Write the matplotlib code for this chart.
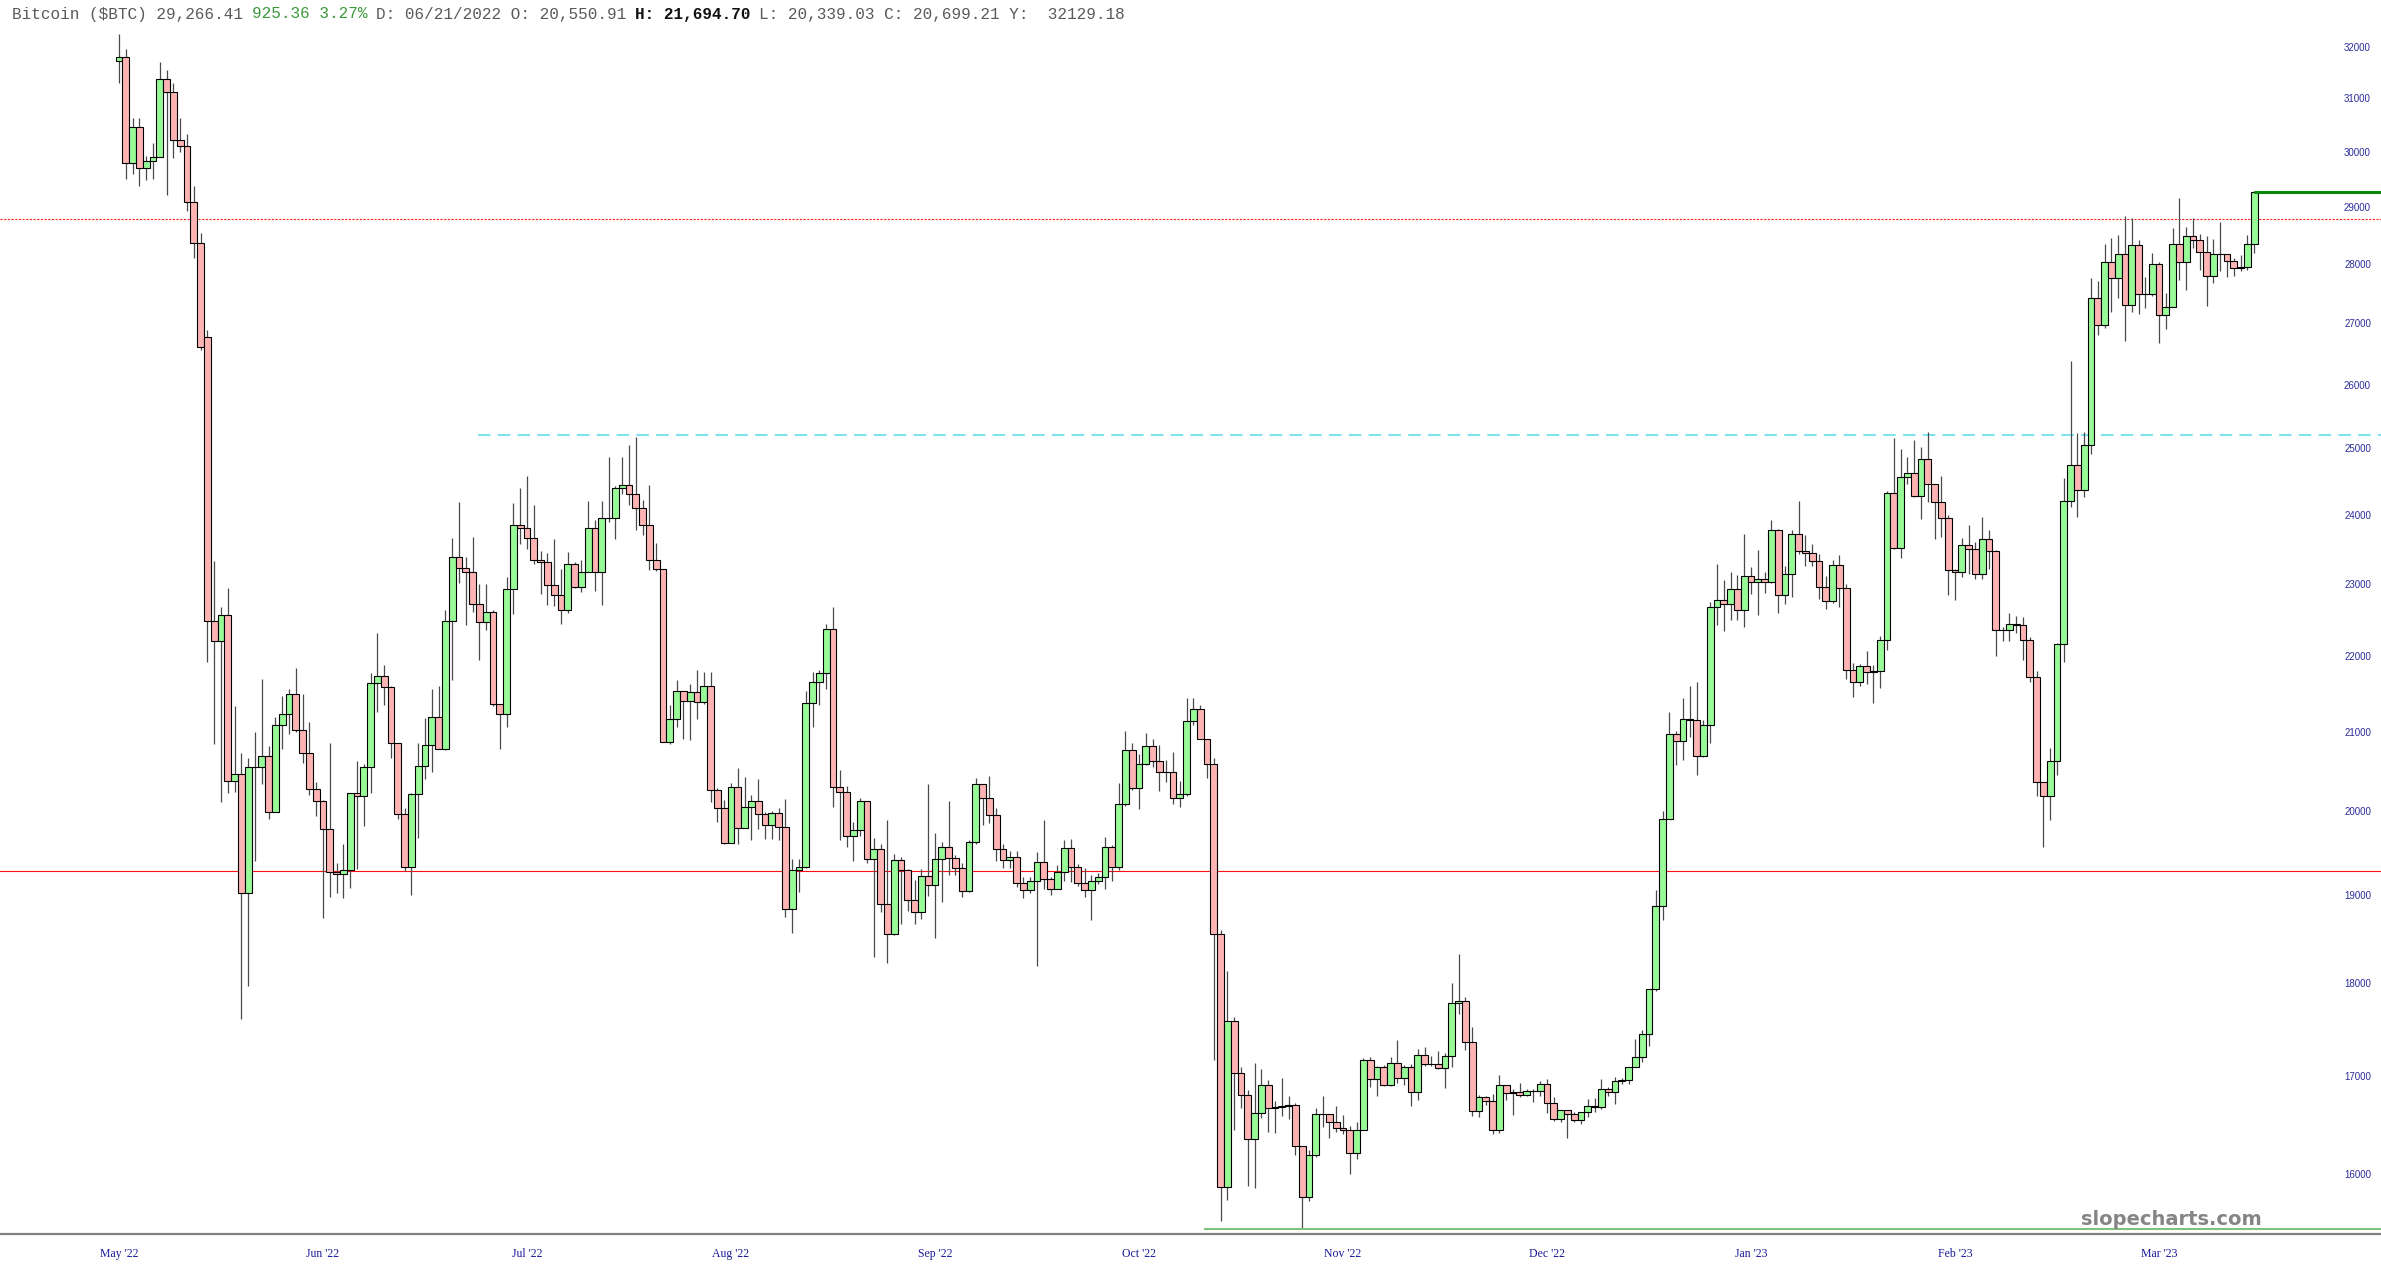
import numpy as np
import matplotlib
matplotlib.use("Agg")
import matplotlib.pyplot as plt
from matplotlib.ticker import NullLocator, NullFormatter
from matplotlib.transforms import offset_copy

# ---------------- data (daily candles, 31 May 2022 -> 10 Apr 2023) ----------------
opens = [
    31723,
    # Jun 2022
    31792, 29800, 30468, 29705, 29833, 29907, 31371, 31125, 30215, 30112, 29084, 28360, 26763, 22488, 22206,
    22572, 20381, 20471, 19017, 20553, 20551, 20699, 19988, 21086, 21232, 21502, 21028, 20736, 20281, 20124,
    # Jul
    19785, 19269, 19243, 19297, 20231, 20190, 20548, 21637, 21731, 21592, 20860, 19970, 19323, 20212, 20569, 20836,
    21190, 20780, 22485, 23389, 23231, 23164, 22714, 22466, 22609, 21362, 21239, 22931, 23843, 23804, 23656,
    # Aug
    23337, 23315, 22979, 22846, 22630, 23289, 22961, 23175, 23810, 23164, 23948, 23957, 24403, 24442, 24305, 24095,
    23855, 23336, 23212, 20877, 21166, 21534, 21398, 21528, 21395, 21600, 20260, 20041, 19616, 20297, 19797,
    # Sep
    20050, 20127, 19970, 19833, 19986, 19812, 18838, 19290, 19329, 21382, 21653, 21781, 22371, 20297, 20241,
    19701, 19773, 20127, 19419, 19545, 18891, 18547, 19413, 19297, 18937, 18803, 19222, 19110, 19427, 19573,
    # Oct
    19432, 19312, 19044, 19623, 20337, 20160, 19955, 19547, 19417, 19446, 19141, 19052, 19157, 19382, 19185, 19068,
    19269, 19550, 19334, 19139, 19054, 19164, 19204, 19571, 19332, 20095, 20771, 20285, 20595, 20818, 20635,
    # Nov
    20495, 20485, 20160, 20209, 21148, 21300, 20906, 20591, 18547, 15880, 17587, 17034, 16800, 16353, 16619,
    16904, 16662, 16680, 16688, 16697, 16282, 15782, 16196, 16610, 16605, 16522, 16459, 16444, 16217, 16445,
    # Dec
    17168, 16968, 17088, 16908, 17130, 16975, 17089, 16836, 17224, 17128, 17127, 17085, 17209, 17774, 17803, 17356,
    16632, 16776, 16738, 16439, 16906, 16817, 16830, 16796, 16847, 16841, 16919, 16717, 16553, 16642, 16603,
    # Jan 2023
    16547, 16625, 16688, 16680, 16863, 16836, 16951, 16955, 17092, 17197, 17446, 17934, 18869, 19910, 20977, 20880,
    21170, 21161, 20689, 21087, 22676, 22777, 22720, 22934, 22636, 23117, 23032, 23078, 23031, 23774, 22840,
    # Feb
    23139, 23723, 23471, 23449, 23331, 22955, 22760, 23264, 22939, 21819, 21651, 21871, 21788, 21808, 22220, 24330,
    23517, 24570, 24631, 24271, 24844, 24451, 24191, 23949, 23200, 23166, 23554, 23502,
    # Mar
    23147, 23646, 23475, 22362, 22353, 22435, 22429, 22219, 21718, 20364, 20187, 20633, 22163, 24197, 24746, 24375,
    25052, 27423, 26966, 28038, 27768, 28176, 27307, 28333, 27493, 27494, 27995, 27139, 27268, 28349, 28033,
    # Apr
    28478, 28411, 28199, 27790, 28168, 28177, 28044, 27926, 27948, 28341,
]

highs = [
    32249,
    31957, 30633, 30633, 29930, 30152, 31693, 31552, 31295, 30630, 30325, 29373, 28532, 26883, 23329, 22681,
    22938, 21334, 20735, 20665, 21000, 21695, 20816, 21190, 21472, 21558, 21839, 21495, 21125, 20364, 20141,
    20865, 19371, 19602, 20231, 20630, 20595, 21771, 22314, 21877, 21596, 20838, 20047, 20223, 20857, 21182, 21561,
    21600, 22633, 23666, 24196, 23388, 23671, 22996, 23004, 22640, 21343, 23094, 24171, 24395, 24572, 24147,
    23467, 23443, 23647, 23218, 23454, 23310, 23347, 24203, 23918, 24200, 24867, 24426, 24860, 25047, 25179, 24226,
    24447, 23581, 23203, 21357, 21682, 21522, 21625, 21812, 21790, 21788, 20290, 20138, 20357, 20540, 20425,
    20198, 20401, 19998, 20000, 20040, 20156, 19428, 19425, 21540, 21792, 21814, 22441, 22680, 20518, 20313,
    19874, 20164, 20116, 19674, 19602, 19896, 19483, 19444, 19304, 19180, 19305, 20338, 19733, 19623, 20134,
    19472, 19370, 19654, 20409, 20343, 20442, 20041, 19601, 19515, 19525, 19214, 19214, 19508, 19889, 19212, 19356,
    19648, 19666, 19361, 19315, 19237, 19257, 19683, 19590, 20348, 21007, 20855, 20721, 20988, 20910, 20833,
    20647, 20742, 20382, 21446, 21446, 21357, 20899, 20664, 18591, 18136, 17626, 17096, 16854, 17136, 17073,
    16960, 16736, 16978, 16791, 16722, 16287, 16247, 16670, 16790, 16595, 16689, 16595, 16481, 16526, 17190,
    17198, 17104, 17116, 17198, 17379, 17109, 17123, 17285, 17307, 17213, 17266, 17240, 18000, 18318, 17847, 17520,
    16800, 16790, 16806, 17007, 16907, 16860, 16923, 16866, 16860, 16944, 16964, 16778, 16651, 16634, 16628,
    16631, 16760, 16774, 16964, 16885, 16992, 16975, 17093, 17389, 17484, 17934, 19053, 20000, 21258, 21009, 21438,
    21601, 21650, 21162, 22745, 23282, 23056, 23165, 23127, 23722, 23237, 23490, 23166, 23919, 23789, 23256,
    23772, 24208, 23703, 23567, 23433, 23107, 23349, 23420, 23005, 21907, 21892, 22074, 21884, 22277, 24348, 25160,
    24985, 24875, 25124, 25020, 25250, 24450, 24586, 23990, 23217, 23660, 23847, 23595,
    23965, 23775, 23479, 22403, 22588, 22554, 22532, 22261, 21801, 20368, 20792, 22175, 24550, 26386, 25231, 25250,
    27768, 27715, 28350, 28458, 28498, 28841, 28800, 28408, 27778, 28197, 28029, 27501, 28620, 29160, 28640,
    28800, 28520, 28484, 28440, 28733, 28178, 28100, 28158, 28500, 29280,
]

lows = [
    31286,
    29501, 29600, 29375, 29485, 29508, 29895, 29219, 29886, 30000, 28920, 28106, 26561, 21925, 20846, 20111,
    20232, 20246, 17600, 17961, 19400, 20339, 19910, 19990, 20777, 20969, 20999, 20601, 20201, 19938, 18729,
    18975, 19024, 18966, 19085, 19304, 19823, 20224, 21257, 21350, 20672, 19905, 19284, 18999, 19670, 20397, 20484,
    20778, 20770, 21683, 23009, 22431, 22603, 21955, 22364, 21341, 20778, 21070, 22585, 23576, 23505, 23287,
    22863, 22710, 22686, 22435, 22588, 22948, 22887, 23164, 22900, 22706, 23900, 23640, 24314, 24142, 23781, 23705,
    23200, 23184, 20868, 20844, 21067, 20915, 20900, 21175, 21369, 20113, 19875, 19601, 19617, 19602, 19884,
    19653, 19786, 19661, 19659, 19650, 18746, 18561, 19034, 19321, 21059, 21358, 21567, 20055, 19656, 19571,
    19400, 19699, 19377, 18292, 18803, 18220, 18532, 18659, 18813, 18657, 18721, 18989, 18503, 18915, 19230,
    19232, 18970, 19028, 19604, 19835, 19854, 19395, 19321, 19316, 19088, 18960, 19025, 18190, 19068, 18999, 19066,
    19161, 19156, 19100, 18970, 18712, 19131, 19067, 19160, 19288, 20064, 20261, 20029, 20579, 20549, 20247,
    20361, 20087, 20057, 20188, 21094, 20904, 20421, 17166, 15550, 15750, 16445, 16665, 15885, 15872, 16566,
    16428, 16410, 16589, 16553, 16195, 15476, 15737, 16175, 16470, 16359, 16423, 16401, 16009, 16153, 16440,
    16888, 16787, 16889, 16894, 16922, 16903, 16691, 16749, 17106, 17100, 17070, 16873, 17090, 17663, 17275, 16584,
    16580, 16697, 16398, 16416, 16745, 16600, 16784, 16794, 16732, 16792, 16612, 16530, 16522, 16360, 16527,
    16499, 16573, 16623, 16660, 16790, 16710, 16914, 16911, 17093, 17143, 17319, 17913, 18714, 19921, 20579, 20643,
    20932, 20449, 20682, 20862, 22425, 22346, 22501, 22493, 22404, 22857, 22560, 22877, 23013, 22595, 22722,
    22817, 23428, 23261, 23256, 22790, 22647, 22738, 22682, 21689, 21461, 21609, 21630, 21377, 21571, 22087, 23500,
    23365, 24465, 24258, 23938, 24184, 23640, 23677, 22850, 22778, 23105, 23138, 23072,
    23066, 23212, 22001, 22215, 22206, 22313, 21945, 21651, 20194, 19569, 19896, 20449, 21918, 24121, 23969, 24261,
    24914, 26800, 26922, 27187, 27412, 26709, 27180, 27157, 27252, 27462, 26676, 26900, 27282, 27720, 27548,
    28280, 27890, 27280, 27680, 27885, 27777, 27793, 27873, 27900, 28190,
]

closes = [
    31792,
    29800, 30468, 29705, 29833, 29907, 31371, 31125, 30215, 30112, 29084, 28360, 26600, 22488, 22206, 22572,
    20381, 20471, 19017, 20553, 20551, 20699, 19988, 21086, 21232, 21502, 21028, 20736, 20281, 20124, 19785,
    19269, 19243, 19297, 20231, 20190, 20548, 21637, 21731, 21592, 20860, 19970, 19323, 20212, 20569, 20836, 21190,
    20780, 22485, 23389, 23231, 23164, 22714, 22466, 22609, 21362, 21239, 22931, 23843, 23804, 23656, 23337,
    23315, 22979, 22846, 22630, 23289, 22961, 23175, 23810, 23164, 23948, 23957, 24403, 24442, 24305, 24095, 23855,
    23336, 23212, 20877, 21166, 21534, 21398, 21528, 21395, 21600, 20260, 20041, 19616, 20297, 19797, 20050,
    20127, 19970, 19833, 19986, 19812, 18838, 19290, 19329, 21382, 21653, 21781, 22371, 20297, 20241, 19701,
    19773, 20127, 19419, 19545, 18891, 18547, 19413, 19297, 18937, 18803, 19222, 19110, 19427, 19573, 19432,
    19312, 19044, 19623, 20337, 20160, 19955, 19547, 19417, 19446, 19141, 19052, 19157, 19382, 19185, 19068, 19269,
    19550, 19334, 19139, 19054, 19164, 19204, 19571, 19332, 20095, 20771, 20285, 20595, 20818, 20635, 20495,
    20485, 20160, 20209, 21148, 21300, 20906, 20591, 18547, 15880, 17587, 17034, 16800, 16353, 16619, 16904,
    16662, 16680, 16688, 16697, 16282, 15782, 16196, 16610, 16605, 16522, 16459, 16444, 16217, 16445, 17168,
    16968, 17088, 16908, 17130, 16975, 17089, 16836, 17224, 17128, 17127, 17085, 17209, 17774, 17803, 17356, 16632,
    16776, 16738, 16439, 16906, 16817, 16830, 16796, 16847, 16841, 16919, 16717, 16553, 16642, 16603, 16547,
    16625, 16688, 16680, 16863, 16836, 16951, 16955, 17092, 17197, 17446, 17934, 18869, 19910, 20977, 20880, 21170,
    21161, 20689, 21087, 22676, 22777, 22720, 22934, 22636, 23117, 23032, 23078, 23031, 23774, 22840, 23139,
    23723, 23471, 23449, 23331, 22955, 22760, 23264, 22939, 21819, 21651, 21871, 21788, 21808, 22220, 24330, 23517,
    24570, 24631, 24271, 24844, 24451, 24191, 23949, 23200, 23166, 23554, 23502, 23147,
    23646, 23475, 22362, 22353, 22435, 22429, 22219, 21718, 20364, 20187, 20633, 22163, 24197, 24746, 24375, 25052,
    27423, 26966, 28038, 27768, 28176, 27307, 28333, 27493, 27494, 27995, 27139, 27268, 28349, 28033, 28478,
    28411, 28199, 27790, 28168, 28177, 28044, 27926, 27948, 28341, 29266,
]

x_tick_pos = [0, 30, 60, 90, 120, 150, 180, 210, 240, 270, 300]
x_tick_labels = ["May '22", "Jun '22", "Jul '22", "Aug '22", "Sep '22", "Oct '22",
                 "Nov '22", "Dec '22", "Jan '23", "Feb '23", "Mar '23"]
y_ticks = [16000, 17000, 18000, 19000, 20000, 21000, 22000, 23000, 24000,
           25000, 26000, 27000, 28000, 29000, 30000, 31000, 32000]
y_tick_labels = [str(v) for v in y_ticks]

# drawn horizontal levels
level_red_dotted = 28780
level_red_solid = 19280
level_cyan = 25200
cyan_start = 52.8
level_last = 29266
last_start = 314
level_low = 15476
low_start = 159.5

# header segments: (text, colour, weight)
header_segments = [
    ("Bitcoin ($BTC) 29,266.41", "#5a5a5a", "normal"),
    ("925.36 3.27%", "#3a9a3a", "normal"),
    ("D: 06/21/2022 O: 20,550.91", "#5a5a5a", "normal"),
    ("H: 21,694.70", "#111111", "bold"),
    ("L: 20,339.03 C: 20,699.21 Y:  32129.18", "#5a5a5a", "normal"),
]

n = len(closes)
assert len(opens) == n and len(highs) == n and len(lows) == n, (len(opens), len(highs), len(lows), n)

# ---------------- figure ----------------
W, H, DPI = 2381, 1275, 100
fig = plt.figure(figsize=(W / DPI, H / DPI), dpi=DPI)
fig.patch.set_facecolor("white")
ax_bottom_px = 1234
ax = fig.add_axes([0, (H - ax_bottom_px) / H, 1, ax_bottom_px / H])
ax.set_facecolor("white")

o = np.array(opens, float)
h = np.array(highs, float)
l = np.array(lows, float)
c = np.array(closes, float)
x = np.arange(n)
up = c >= o
body_col = np.where(up, "#98fb98", "#ffb4b4")

ax.vlines(x, l, h, color="#4a4a4a", linewidth=0.9, zorder=2)
ax.bar(x, np.abs(c - o), bottom=np.minimum(o, c), width=1.0, color=body_col,
       edgecolor="black", linewidth=0.8, zorder=3)

ax.set_yscale("log")
xmin, xmax = -17.5, 332.65
ax.set_xlim(xmin, xmax)
ax.set_ylim(15425, 32932)

ax.axhline(level_red_dotted, color="#ff2020", linewidth=0.8, linestyle=(0, (2, 1.3)), zorder=1)
ax.axhline(level_red_solid, color="#ff1010", linewidth=0.8, zorder=1)
ax.hlines(level_cyan, cyan_start, xmax, color="#7fe3ef", linewidth=1.5, linestyle=(0, (6, 3.5)), zorder=1)
ax.hlines(level_last, last_start, xmax, color="#0b860b", linewidth=2.2, zorder=4)
ax.hlines(level_low, low_start, xmax, color="#7cc47c", linewidth=1.5, zorder=4)

for side in ("top", "left", "right"):
    ax.spines[side].set_visible(False)
ax.spines["bottom"].set_color("#808080")
ax.spines["bottom"].set_linewidth(1.6)

ax.set_yticks(y_ticks, labels=y_tick_labels)
ax.yaxis.set_minor_locator(NullLocator())
ax.yaxis.set_minor_formatter(NullFormatter())
ax.yaxis.tick_right()
ax.tick_params(axis="y", which="both", length=0, pad=-7.2, labelsize=7, labelcolor="#2b2b9a")
for t in ax.get_yticklabels():
    t.set_horizontalalignment("right")
    t.set_fontfamily("Liberation Sans")

ax.set_xticks(x_tick_pos, labels=x_tick_labels)
ax.tick_params(axis="x", length=0, pad=10, labelsize=8.5, labelcolor="#1a1a99")
for t in ax.get_xticklabels():
    t.set_fontfamily("Liberation Serif")

# header: monospace segments placed one after another (advance 0.6 em per char)
fs = 11.5
char_pt = 0.6 * fs
hx, hy = 12 / W, 1 - 14 / H
col = 0
for text, color, weight in header_segments:
    tr = offset_copy(fig.transFigure, fig=fig, x=col * char_pt, y=0, units="points")
    fig.text(hx, hy, text, transform=tr, family="Liberation Mono", fontsize=fs,
             color=color, weight=weight, va="center", ha="left")
    col += len(text) + 1

fig.text(2262 / W, 1 - 1225 / H, "slopecharts.com", ha="right", va="baseline",
         fontsize=14, weight="bold", color="#858585", family="DejaVu Sans")

fig.savefig("out.png", dpi=DPI, facecolor="white")
